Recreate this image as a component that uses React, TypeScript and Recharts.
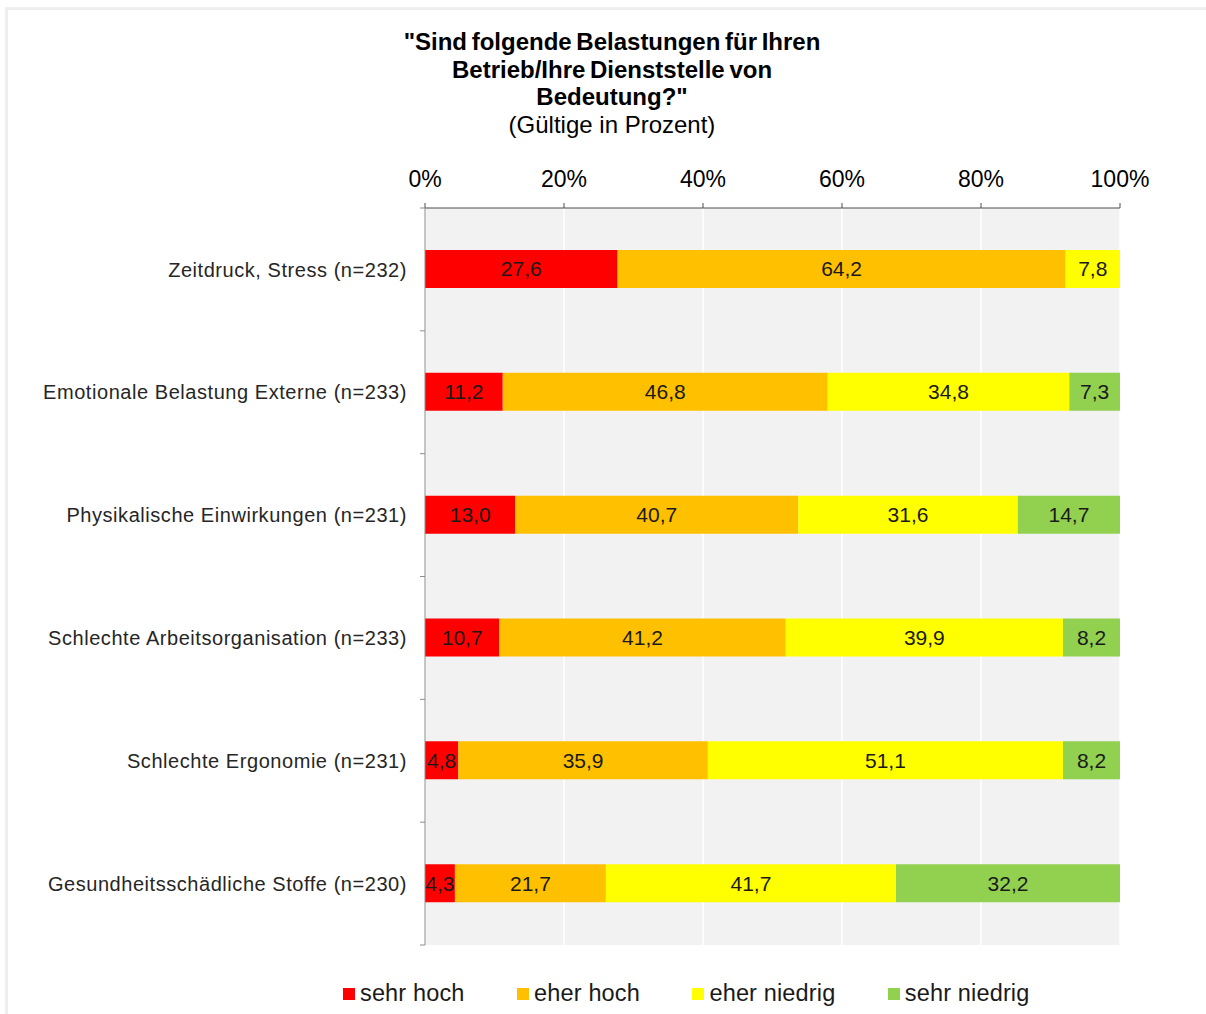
import React from "react";
import {
  BarChart,
  Bar,
  XAxis,
  YAxis,
  CartesianGrid,
  LabelList,
} from "recharts";

const categories = [
  "Zeitdruck, Stress (n=232)",
  "Emotionale Belastung Externe (n=233)",
  "Physikalische Einwirkungen (n=231)",
  "Schlechte Arbeitsorganisation (n=233)",
  "Schlechte Ergonomie (n=231)",
  "Gesundheitsschädliche Stoffe (n=230)",
];
const sehrHoch = [27.6, 11.2, 13.0, 10.7, 4.8, 4.3];
const eherHoch = [64.2, 46.8, 40.7, 41.2, 35.9, 21.7];
const eherNiedrig = [7.8, 34.8, 31.6, 39.9, 51.1, 41.7];
const sehrNiedrig: (number | null)[] = [null, 7.3, 14.7, 8.2, 8.2, 32.2];

const seriesNames = ["sehr hoch", "eher hoch", "eher niedrig", "sehr niedrig"];
const seriesKeys = ["sehrHoch", "eherHoch", "eherNiedrig", "sehrNiedrig"];
const seriesColors = ["#ff0000", "#ffc000", "#ffff00", "#92d050"];
const xTicks = [0, 0.2, 0.4, 0.6, 0.8, 1];

const titleLines = [
  '"Sind folgende Belastungen für Ihren',
  "Betrieb/Ihre Dienststelle von",
  'Bedeutung?"',
];
const subtitle = "(Gültige in Prozent)";

const data = categories.map((c, i) => ({
  name: c,
  sehrHoch: sehrHoch[i],
  eherHoch: eherHoch[i],
  eherNiedrig: eherNiedrig[i],
  sehrNiedrig: sehrNiedrig[i],
}));

const FONT = '"Liberation Sans", Arial, sans-serif';
const Y_TICK_SIZE = 6;
const Y_TICK_MARGIN = 12;
const AXIS_GRAY = "#8c8c8c";

const fmtLabel = (v: any) =>
  v === null || v === undefined || v === 0 ? "" : Number(v).toFixed(1).replace(".", ",");

const CategoryTick = (props: any) => {
  const { x, y, payload, index, visibleTicksCount } = props;
  const axisX = x + Y_TICK_SIZE + Y_TICK_MARGIN;
  const half = payload && typeof payload.offset === "number" ? payload.offset : 0;
  const isLast = index === (visibleTicksCount ?? 0) - 1;
  return (
    <g>
      {half > 0 && (
        <line x1={axisX - 5} x2={axisX} y1={y - half} y2={y - half} stroke={AXIS_GRAY} />
      )}
      {half > 0 && isLast && (
        <line x1={axisX - 5} x2={axisX} y1={y + half} y2={y + half} stroke={AXIS_GRAY} />
      )}
      <text
        x={x}
        y={y}
        dy="0.355em"
        textAnchor="end"
        fontSize={20}
        fill="#262626"
        letterSpacing={0.55}
        fontFamily={FONT}
      >
        {payload.value}
      </text>
    </g>
  );
};

export default function App() {
  return (
    <div
      style={{
        position: "absolute",
        left: 0,
        top: 0,
        width: 1206,
        height: 1014,
        overflow: "hidden",
        background: "#fff",
        fontFamily: FONT,
      }}
    >
      <div
        style={{
          position: "absolute",
          left: 5,
          top: 7,
          width: 1230,
          height: 1040,
          border: "3px solid #efefef",
        }}
      />
      <div
        style={{
          position: "absolute",
          left: 312,
          width: 600,
          top: 28,
          textAlign: "center",
          color: "#000",
          fontSize: 24,
          lineHeight: "27.5px",
          whiteSpace: "nowrap",
        }}
      >
        {titleLines.map((t, i) => (
          <div key={i} style={{ fontWeight: "bold", wordSpacing: -2 }}>
            {t}
          </div>
        ))}
        <div>{subtitle}</div>
      </div>
      <div style={{ position: "absolute", left: 0, top: 0 }}>
        <BarChart
          width={1206}
          height={1014}
          data={data}
          layout="vertical"
          stackOffset="expand"
          margin={{ top: 168, right: 86, bottom: 69, left: 0 }}
          style={{ fontFamily: FONT }}
        >
          <CartesianGrid
            horizontal={false}
            vertical={true}
            stroke="#ffffff"
            strokeWidth={1.5}
            fill="#f2f2f2"
          />
          <XAxis
            type="number"
            orientation="top"
            domain={[0, 1]}
            ticks={xTicks}
            tickFormatter={(v: number) => `${Math.round(v * 100)}%`}
            height={40}
            tickSize={5}
            tickMargin={16}
            axisLine={{ stroke: "#4d4d4d" }}
            tickLine={{ stroke: "#4d4d4d" }}
            tick={{ fontSize: 23, fill: "#000" }}
            interval={0}
          />
          <YAxis
            type="category"
            dataKey="name"
            width={425}
            axisLine={{ stroke: AXIS_GRAY }}
            tickLine={false}
            tickSize={Y_TICK_SIZE}
            tickMargin={Y_TICK_MARGIN}
            interval={0}
            tick={<CategoryTick />}
          />
          {seriesKeys.map((k, i) => (
            <Bar
              key={k}
              dataKey={k}
              name={seriesNames[i]}
              stackId="s"
              fill={seriesColors[i]}
              barSize={38}
              isAnimationActive={false}
            >
              <LabelList
                dataKey={k}
                position="center"
                formatter={fmtLabel}
                style={{ fontSize: 21, fill: "#1a1a1a", fontFamily: FONT }}
              />
            </Bar>
          ))}
        </BarChart>
      </div>
      <div
        style={{
          position: "absolute",
          left: 343,
          top: 978,
          display: "flex",
          alignItems: "center",
          gap: 52.5,
          fontSize: 23.5,
          letterSpacing: 0.15,
          color: "#1a1a1a",
          whiteSpace: "nowrap",
          lineHeight: "30px",
        }}
      >
        {seriesNames.map((n, i) => (
          <div key={n} style={{ display: "flex", alignItems: "center" }}>
            <div
              style={{
                width: 12,
                height: 12,
                background: seriesColors[i],
                marginRight: 5,
                marginTop: 2,
              }}
            />
            <span>{n}</span>
          </div>
        ))}
      </div>
    </div>
  );
}
